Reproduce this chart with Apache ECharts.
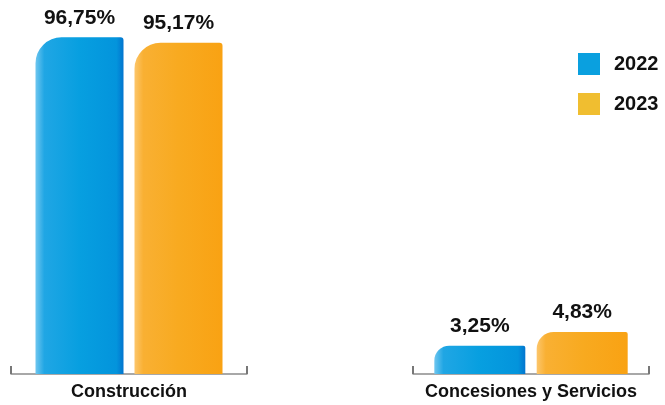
<!DOCTYPE html>
<html>
<head>
<meta charset="utf-8">
<style>
	html,body{ margin:0; padding:0; background:#fff;}
	#mainBox{ width:665px; height:405px;}
</style>
<script src="https://cdn.jsdelivr.net/npm/echarts@6/dist/echarts.min.js"></script>
</head>
<body>
<div id="mainBox"></div>
<script>
// datos
var categorias=['Construcción','Concesiones y Servicios'];
var anios=['2022','2023'];
var valores2022=[96.75,3.25];
var valores2023=[95.17,4.83];

var fmt=function(p){
	return p.value.toFixed(2).replace('.',',')+'%';
};
var gradAzul=new echarts.graphic.LinearGradient(0,0,1,0,[
	{offset:0,color:'#6fc6ef'},
	{offset:0.1,color:'#20a6e4'},
	{offset:0.5,color:'#079fe0'},
	{offset:0.92,color:'#0394dc'},
	{offset:1,color:'#0275cf'}
]);
var gradNaranja=new echarts.graphic.LinearGradient(0,0,1,0,[
	{offset:0,color:'#fcc66c'},
	{offset:0.1,color:'#f9b033'},
	{offset:0.5,color:'#f8aa20'},
	{offset:1,color:'#f9a213'}
]);
var etiqueta={
	show:true,position:'top',distance:9,formatter:fmt,
	fontFamily:'Liberation Sans, Arial',fontWeight:'bold',fontSize:21,color:'#111'
};
var mkSerie=function(name,idx,val,grad,bw,rad){
	return {
		name:name,type:'bar',xAxisIndex:idx,yAxisIndex:idx,
		data:[val],barWidth:bw,barGap:'12.5%',
		itemStyle:{color:grad,borderRadius:rad},
		label:etiqueta
	};
};
var mkX=function(idx){
	return {
		type:'category',gridIndex:idx,data:[categorias[idx]],
		axisLine:{lineStyle:{color:'#8c8c8c',width:1.5}},
		axisTick:{show:true,inside:true,length:8,lineStyle:{color:'#777',width:2}},
		axisLabel:{margin:9,fontFamily:'Liberation Sans, Arial',fontWeight:'bold',fontSize:18,color:'#111'}
	};
};
var mkY=function(idx,max){
	return {type:'value',gridIndex:idx,min:0,max:max,show:false};
};

var myChart=echarts.init(document.getElementById('mainBox'));
myChart.setOption({
	animation:false,
	legend:{
		orient:'vertical',left:578,top:53,padding:0,itemWidth:22,itemHeight:22,itemGap:18,
		icon:'rect',
		textStyle:{fontFamily:'Liberation Sans, Arial',fontWeight:'bold',fontSize:20,color:'#111',padding:[0,0,0,9]},
		data:[
			{name:anios[0],itemStyle:{color:'#0aa0df'}},
			{name:anios[1],itemStyle:{color:'#f0be30'}}
		]
	},
	grid:[
		{left:11,width:236,top:26,bottom:31},
		{left:413,width:236,top:26,bottom:31}
	],
	xAxis:[mkX(0),mkX(1)],
	yAxis:[mkY(0,100),mkY(1,40)],
	series:[
		mkSerie(anios[0],0,valores2022[0],gradAzul,88,[26,3,0,0]),
		mkSerie(anios[1],0,valores2023[0],gradNaranja,88,[26,3,0,0]),
		mkSerie(anios[0],1,valores2022[1],gradAzul,91,[15,2,0,0]),
		mkSerie(anios[1],1,valores2023[1],gradNaranja,91,[17,2,0,0])
	]
});
</script>
</body>
</html>
